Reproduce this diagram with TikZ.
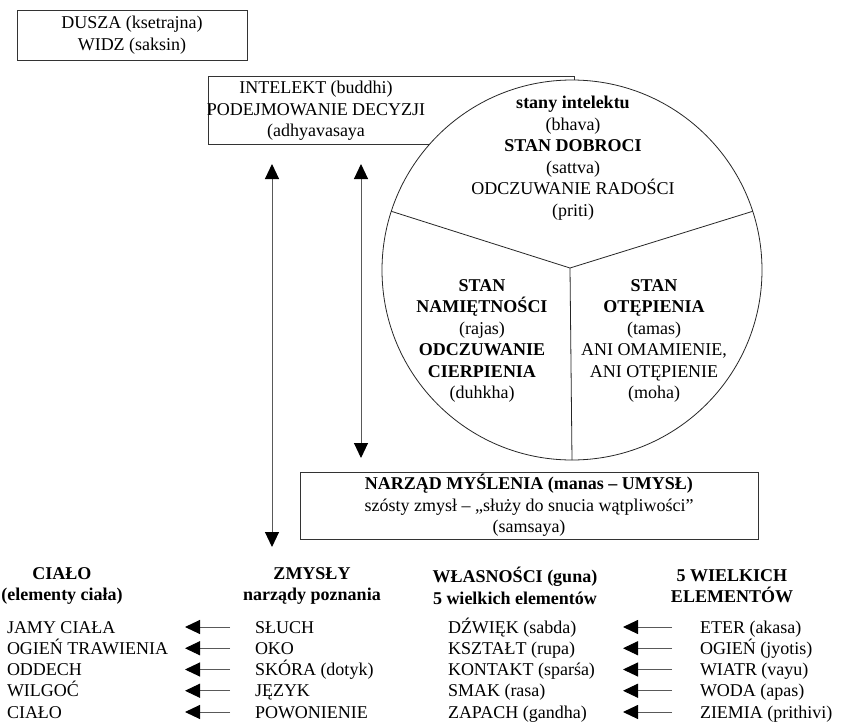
\documentclass[tikz,border=0pt]{standalone}
\usepackage{fontspec}
\setmainfont{Liberation Serif}
\usetikzlibrary{arrows.meta}
\begin{document}
\begin{tikzpicture}[x=1pt,y=-1pt,
  every node/.style={font=\fontsize{18}{21.5}\selectfont, inner sep=0pt, outer sep=0pt},
  box/.style={draw=black!80, line width=1pt, fill=white},
  lbl/.style={align=center},
  head/.style={align=center, font=\fontsize{18}{21.5}\selectfont\bfseries},
  conn/.style={draw=black!65, line width=1pt, -{Triangle[length=15pt,width=14pt,color=black]}},
  twoway/.style={draw=black!65, line width=1pt,
    {Triangle[length=15pt,width=14pt,color=black]}-{Triangle[length=15pt,width=14pt,color=black]}},
  divider/.style={draw=black!85, line width=0.8pt}
]
\useasboundingbox (0,0) rectangle (841,723);

% soul / witness
\node[box, lbl, minimum width=230pt, minimum height=50pt] (dusza) at (132,35)
  {DUSZA (ksetrajna)\\WIDZ (saksin)};

% intellect box (its right part lies under the circle)
\node[box, minimum width=366pt, minimum height=68pt] (intelekt) at (391,110) {};
\node[lbl] (intelekttxt) at (316,111)
  {INTELEKT (buddhi)\\PODEJMOWANIE DECYZJI\\(adhyavasaya};

% circle of the three states
\node[circle, draw=black!85, line width=0.8pt, fill=white, minimum size=380pt] (guny) at (572,270) {};
\coordinate (hub) at (570,268);
\draw[divider] (hub) -- (guny.162);
\draw[divider] (hub) -- (guny.18);
\draw[divider] (hub) -- (guny.270);

\node[lbl] (sattva) at (573,158)
  {\textbf{stany intelektu}\\(bhava)\\\textbf{STAN DOBROCI}\\(sattva)\\ODCZUWANIE RADOŚCI\\(priti)};
\node[lbl] (rajas) at (482,341)
  {\textbf{STAN}\\\textbf{NAMIĘTNOŚCI}\\(rajas)\\\textbf{ODCZUWANIE}\\\textbf{CIERPIENIA}\\(duhkha)};
\node[lbl] (tamas) at (654,341)
  {\textbf{STAN}\\\textbf{OTĘPIENIA}\\(tamas)\\ANI OMAMIENIE,\\ANI OTĘPIENIE\\(moha)};

% mind box
\node[box, lbl, minimum width=458pt, minimum height=67pt] (manas) at (529,505.5)
  {\textbf{NARZĄD MYŚLENIA (manas – UMYSŁ)}\\szósty zmysł – „służy do snucia wątpliwości”\\(samsaya)};

% vertical two-way arrows
\coordinate (a1top) at (272,164);
\coordinate (a1bot) at (272,547);
\coordinate (a2top) at (361,164);
\coordinate (a2bot) at (361,458);
\draw[twoway] (a1top) -- (a1bot);
\draw[twoway] (a2top) -- (a2bot);

% column headings
\node[head] (hcialo) at (62,586) {CIAŁO\\(elementy ciała)};
\node[head] (hzmysly) at (312,586) {ZMYSŁY\\narządy poznania};
\node[head] (hguna) at (515,586) {WŁASNOŚCI (guna)\\5 wielkich elementów};
\node[head] (helem) at (732,586) {5 WIELKICH\\ELEMENTÓW};

% rows
\foreach \ca/\zm/\wl/\el [count=\i from 0] in {
  JAMY CIAŁA/SŁUCH/DŹWIĘK (sabda)/ETER (akasa),
  OGIEŃ TRAWIENIA/OKO/KSZTAŁT (rupa)/OGIEŃ (jyotis),
  ODDECH/SKÓRA (dotyk)/KONTAKT (sparśa)/WIATR (vayu),
  WILGOĆ/JĘZYK/SMAK (rasa)/WODA (apas),
  CIAŁO/POWONIENIE/ZAPACH (gandha)/ZIEMIA (prithivi)}{
  \pgfmathsetmacro\yb{633+21.25*\i}
  \pgfmathsetmacro\ya{627+21.25*\i}
  \node[anchor=base west] (cialo\i) at (7,\yb) {\ca};
  \node[anchor=base west] (zmysl\i) at (255,\yb) {\zm};
  \node[anchor=base west] (guna\i) at (448,\yb) {\wl};
  \node[anchor=base west] (elem\i) at (700,\yb) {\el};
  \coordinate (ta\i) at (230,\ya);
  \coordinate (ha\i) at (185,\ya);
  \coordinate (tb\i) at (672,\ya);
  \coordinate (hb\i) at (623,\ya);
  \draw[conn] (ta\i) -- (ha\i);
  \draw[conn] (tb\i) -- (hb\i);
}
\end{tikzpicture}
\end{document}
